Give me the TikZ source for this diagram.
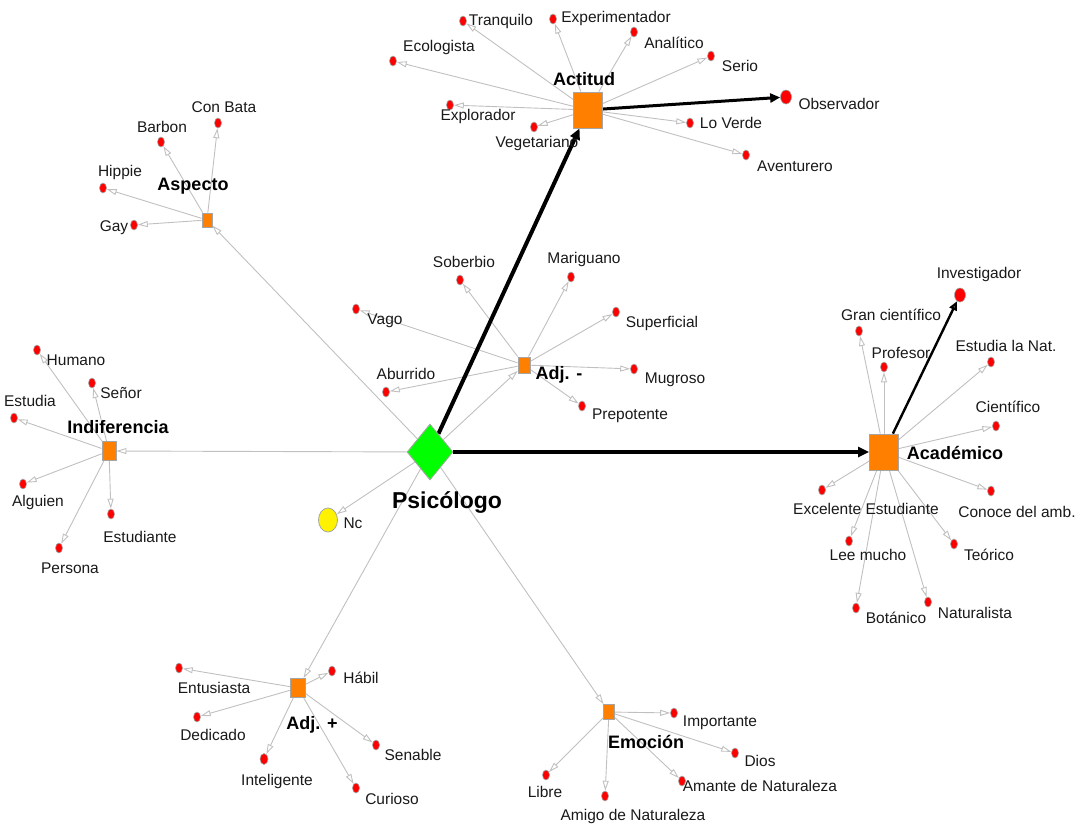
\documentclass[tikz,border=0pt]{standalone}
\usepackage{fontspec}
\setmainfont{Liberation Sans}
\usetikzlibrary{shapes.geometric,arrows.meta,backgrounds}
\definecolor{edgegray}{RGB}{192,192,192}
\definecolor{bordergray}{RGB}{165,165,165}
\definecolor{hubor}{RGB}{255,128,0}
\definecolor{txt}{RGB}{25,25,25}
\tikzset{
  leaf/.style={ellipse, draw=bordergray, fill=red, line width=0.6pt, minimum width=7pt, minimum height=10pt, inner sep=0pt},
  bigleaf/.style={leaf, minimum width=11pt, minimum height=14pt},
  hubbig/.style={rectangle, draw=bordergray, fill=hubor, line width=0.8pt, minimum width=29pt, minimum height=36pt, inner sep=0pt},
  hubsmall/.style={rectangle, draw=bordergray, fill=hubor, line width=0.8pt, inner sep=0pt},
  edge/.style={draw=edgegray, line width=0.9pt, -{Triangle[open, length=10pt, width=6pt]}},
  thickedge/.style={draw=black, line width=4pt, -{Triangle[length=11pt, width=10pt]}},
  medEdge/.style={draw=black, line width=3pt, -{Triangle[length=10pt, width=9pt]}},
  thinblack/.style={draw=black, line width=2.4pt, -{Triangle[open, length=9pt, width=8pt]}},
  lab/.style={font=\fontsize{15.5}{16}\selectfont, text=txt, inner sep=0pt},
  blab/.style={font=\fontsize{18}{19}\selectfont\bfseries, text=black, inner sep=0pt},
}
\begin{document}
\begin{tikzpicture}[x=1pt,y=-1pt]
\useasboundingbox (0,0) rectangle (1079,825);

% central node
\node[diamond, draw=bordergray, fill=green, line width=0.8pt, minimum width=46pt, minimum height=56pt, inner sep=0pt] (psi) at (430,452) {};
\node[font=\fontsize{23}{24}\selectfont\bfseries, inner sep=0pt] (lpsi) at (447,502) {Psicólogo};
\node[ellipse, draw=bordergray, fill=yellow, line width=0.8pt, minimum width=19pt, minimum height=24pt, inner sep=0pt] (nc) at (328,520) {};
\node[lab] (lnc) at (353,523) {Nc};

% hubs
\node[hubbig] (act) at (588,110) {};
\node[hubbig] (aca) at (884,452) {};
\node[hubsmall, minimum width=10pt, minimum height=14pt] (asp) at (207,220) {};
\node[hubsmall, minimum width=12pt, minimum height=16pt] (adjm) at (524,365) {};
\node[hubsmall, minimum width=14pt, minimum height=19pt] (ind) at (109,451) {};
\node[hubsmall, minimum width=15pt, minimum height=19pt] (adjp) at (298,688) {};
\node[hubsmall, minimum width=11pt, minimum height=15pt] (emo) at (609,712) {};

\node[blab] (lact) at (584,79) {Actitud};
\node[blab] (laca) at (955,453) {Académico};
\node[blab] (lasp) at (193,186) {Aspecto};
\node[blab] (ladjm) at (559,375) {Adj. -};
\node[blab] (lind) at (118,427) {Indiferencia};
\node[blab] (ladjp) at (312,725) {Adj. +};
\node[blab] (lemo) at (646,742) {Emoción};

% Actitud leaves
\node[leaf] (tra) at (463,21) {};
\node[leaf] (exp) at (553,19) {};
\node[leaf] (ana) at (634,32) {};
\node[leaf] (ser) at (711,56) {};
\node[leaf] (eco) at (393,61) {};
\node[leaf] (exl) at (450,105) {};
\node[leaf] (veg) at (534,127) {};
\node[leaf] (lov) at (690,123) {};
\node[leaf] (ave) at (746,155) {};
\node[bigleaf] (obs) at (786,97) {};
\node[lab] (ltra) at (501,21) {Tranquilo};
\node[lab] (lexp) at (616,18) {Experimentador};
\node[lab] (lana) at (674,43) {Analítico};
\node[lab] (lser) at (740,66) {Serio};
\node[lab] (leco) at (439,47) {Ecologista};
\node[lab] (lexl) at (478,116) {Explorador};
\node[lab] (lveg) at (537,143) {Vegetariano};
\node[lab] (llov) at (731,123) {Lo Verde};
\node[lab] (lave) at (795,166) {Aventurero};
\node[lab] (lobs) at (839,104) {Observador};

% Aspecto leaves
\node[leaf] (cba) at (218,123) {};
\node[leaf] (bar) at (161,142) {};
\node[leaf] (hip) at (103,188) {};
\node[leaf] (gay) at (134,225) {};
\node[lab] (lcba) at (224,107) {Con Bata};
\node[lab] (lbar) at (162,127) {Barbon};
\node[lab] (lhip) at (120,172) {Hippie};
\node[lab] (lgay) at (114,228) {Gay};

% Adj. - leaves
\node[leaf] (sob) at (460,280) {};
\node[leaf] (mar) at (571,277) {};
\node[leaf] (vag) at (356,309) {};
\node[leaf] (sup) at (616,312) {};
\node[leaf] (abu) at (386,392) {};
\node[leaf] (mug) at (634,369) {};
\node[leaf] (pre) at (582,406) {};
\node[lab] (lsob) at (464,262) {Soberbio};
\node[lab] (lmar) at (584,259) {Mariguano};
\node[lab] (lvag) at (385,321) {Vago};
\node[lab] (lsup) at (662,323) {Superficial};
\node[lab] (labu) at (406,374) {Aburrido};
\node[lab] (lmug) at (675,380) {Mugroso};
\node[lab] (lpre) at (630,416) {Prepotente};

% Indiferencia leaves
\node[leaf] (hum) at (37,350) {};
\node[leaf] (sen) at (92,383) {};
\node[leaf] (estu) at (14,418) {};
\node[leaf] (alg) at (23,484) {};
\node[leaf] (est) at (111,514) {};
\node[leaf] (per) at (59,548) {};
\node[lab] (lhum) at (76,360) {Humano};
\node[lab] (lsen) at (121,393) {Señor};
\node[lab] (lestu) at (30,401) {Estudia};
\node[lab] (lalg) at (38,502) {Alguien};
\node[lab] (lest) at (140,537) {Estudiante};
\node[lab] (lper) at (70,568) {Persona};

% Academico leaves
\node[bigleaf] (inv) at (960,295) {};
\node[leaf] (gci) at (859,331) {};
\node[leaf] (pro) at (884,367) {};
\node[leaf] (eln) at (991,362) {};
\node[leaf] (cie) at (996,426) {};
\node[leaf] (exc) at (822,490) {};
\node[leaf] (con) at (991,491) {};
\node[leaf] (lee) at (849,541) {};
\node[leaf] (teo) at (954,544) {};
\node[leaf] (bot) at (856,608) {};
\node[leaf] (nat) at (928,602) {};
\node[lab] (linv) at (979,274) {Investigador};
\node[lab] (lgci) at (891,315) {Gran científico};
\node[lab] (lpro) at (901,353) {Profesor};
\node[lab] (leln) at (1006,346) {Estudia la Nat.};
\node[lab] (lcie) at (1008,407) {Científico};
\node[lab] (lexc) at (866,509) {Excelente Estudiante};
\node[lab] (lcon) at (1017,512) {Conoce del amb.};
\node[lab] (llee) at (868,555) {Lee mucho};
\node[lab] (lteo) at (989,555) {Teórico};
\node[lab] (lbot) at (896,618) {Botánico};
\node[lab] (lnat) at (975,613) {Naturalista};

% Adj. + leaves
\node[leaf] (ent) at (179,668) {};
\node[leaf] (hab) at (332,671) {};
\node[leaf] (ded) at (197,717) {};
\node[leaf, minimum width=8pt, minimum height=11pt] (int) at (264,759) {};
\node[leaf] (sna) at (376,745) {};
\node[leaf] (cur) at (356,788) {};
\node[lab] (lent) at (214,688) {Entusiasta};
\node[lab] (lhab) at (361,678) {Hábil};
\node[lab] (lded) at (213,735) {Dedicado};
\node[lab] (lint) at (277,781) {Inteligente};
\node[lab] (lsna) at (413,755) {Senable};
\node[lab] (lcur) at (392,799) {Curioso};

% Emocion leaves
\node[leaf] (imp) at (674,713) {};
\node[leaf] (dio) at (735,753) {};
\node[leaf] (ama) at (682,781) {};
\node[leaf] (lib) at (546,775) {};
\node[leaf] (ami) at (605,796) {};
\node[lab] (limp) at (720,723) {Importante};
\node[lab] (ldio) at (760,761) {Dios};
\node[lab] (lama) at (760,786) {Amante de Naturaleza};
\node[lab] (llib) at (545,792) {Libre};
\node[lab] (lami) at (633,816) {Amigo de Naturaleza};

% edges
\begin{pgfonlayer}{background}
\foreach \t in {tra,exp,ana,ser,eco,exl,veg,lov,ave} \draw[edge] (act) -- (\t);
\foreach \t in {cba,bar,hip,gay} \draw[edge] (asp) -- (\t);
\foreach \t in {sob,mar,vag,sup,abu,mug,pre} \draw[edge] (adjm) -- (\t);
\foreach \t in {hum,sen,estu,alg,est,per} \draw[edge] (ind) -- (\t);
\foreach \t in {gci,pro,eln,cie,exc,con,lee,teo,bot,nat} \draw[edge] (aca) -- (\t);
\foreach \t in {ent,hab,ded,int,sna,cur} \draw[edge] (adjp) -- (\t);
\foreach \t in {imp,dio,ama,lib,ami} \draw[edge] (emo) -- (\t);
\foreach \t in {asp,ind,adjm,nc,adjp,emo} \draw[edge] (psi) -- (\t);
\draw[thickedge] (psi) -- (act);
\draw[thickedge] (psi.east) -- (aca.west);
\draw[medEdge] (act) -- (obs);
\draw[thinblack] (aca) -- (inv);
\end{pgfonlayer}
\end{tikzpicture}
\end{document}
